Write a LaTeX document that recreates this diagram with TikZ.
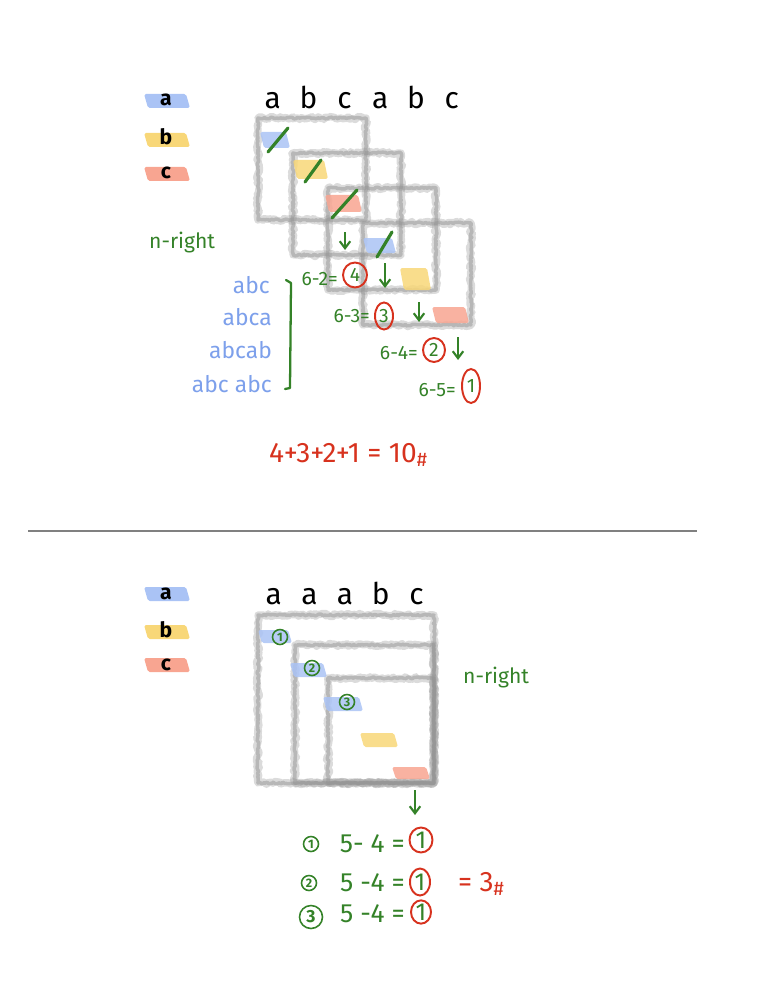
\documentclass[tikz,border=0pt]{standalone}
\usepackage{fontspec}
\setmainfont{Fira Sans}
\usetikzlibrary{shapes.geometric,decorations.pathmorphing,arrows.meta}

\definecolor{penGreen}{RGB}{52,130,40}
\definecolor{penRed}{RGB}{215,50,30}
\definecolor{penBlue}{RGB}{125,160,235}
\definecolor{hlBlue}{RGB}{170,195,245}
\definecolor{hlYellow}{RGB}{248,215,120}
\definecolor{hlRed}{RGB}{248,165,145}

\begin{document}
\begin{tikzpicture}[x=0.02cm, y=-0.02cm]
    \tikzstyle{sketchbox} = [draw=gray!80, line width=4.2pt, opacity=0.35, line join=round, decorate, decoration={random steps, segment length=1.2pt, amplitude=0.9pt}]
    \tikzstyle{sketchcore} = [draw=gray!85, line width=2pt, opacity=0.5, line join=round, decorate, decoration={random steps, segment length=1pt, amplitude=0.5pt}]
    \tikzstyle{hdr} = [anchor=base, font=\fontsize{17}{20}\selectfont]
    \tikzstyle{legend} = [anchor=base, font=\fontsize{12}{14}\selectfont\bfseries]
    \tikzstyle{pen} = [text=penGreen, font=\fontsize{12}{14}\selectfont]
    \tikzstyle{ring} = [ellipse, draw=penRed, line width=1.1pt, text=penGreen, inner sep=0pt]
    \tikzstyle{dot} = [circle, draw=penGreen, line width=0.9pt, text=penGreen, inner sep=0pt, minimum size=0.3cm, font=\fontsize{7}{8}\selectfont\bfseries]
    \tikzstyle{slash} = [penGreen, line width=1.8pt, line cap=round]
    \tikzstyle{down} = [penGreen, line width=1.2pt, -{Straight Barb[length=4pt,width=6pt]}]

    \useasboundingbox (0,0) rectangle (765,1000);

    % ---------- upper half: abcabc ----------
    % Legend
    \foreach \y/\col/\t [count=\i] in {101/hlBlue/a, 140/hlYellow/b, 174/hlRed/c} {
        \fill[\col, rounded corners=1pt] (144,\y-7) -- (186,\y-7) -- (190,\y+7) -- (148,\y+7) -- cycle;
        \node[legend] (lgA\i) at (166,\y+5) {\t};
    }

    % Column letters
    \foreach \t [count=\i] in {a,b,c,a,b,c}
        \node[hdr] (hA\i) at ({237+35.8*\i},109) {\t};

    % Windows
    \foreach \i in {0,...,3} {
        \draw[sketchbox] ({258+35*\i},{118+35*\i}) rectangle +(108,102);
        \draw[sketchcore] ({258+35*\i},{118+35*\i}) rectangle +(108,102);
    }

    % Highlighted letters
    \foreach \xa/\ya/\xb/\yb/\col in {260/132/290/148/hlBlue, 293/160/328/179/hlYellow, 325/195/362/212/hlRed,
                                      363/238/396/253/hlBlue, 400/268/431/290/hlYellow, 432/307/469/323/hlRed}
        \fill[\col, opacity=0.85, rounded corners=1pt] (\xa,\ya) -- (\xb-4,\ya) -- (\xb,\yb) -- (\xa+4,\yb) -- cycle;

    % Crossed out starts
    \draw[slash] (268,152) -- (288,128);
    \draw[slash] (305,182) -- (321,160);
    \draw[slash] (332,218) -- (357,190);
    \draw[slash] (377,257) -- (392,232);

    % Arrows down
    \foreach \x/\ya/\yb in {345/232/250, 385/263/288, 419/302/322, 458/337/360}
        \draw[down] (\x,\ya) -- (\x,\yb);

    \node[pen, anchor=west] (nrA) at (143,243) {n-right};

    % Substrings
    \node[pen, text=penBlue, anchor=base east, font=\fontsize{13}{15}\selectfont] (sA) at (276,293) {abc};
    \node[pen, text=penBlue, anchor=base east, font=\fontsize{13}{15}\selectfont] (sB) at (278,325) {abca};
    \node[pen, text=penBlue, anchor=base east, font=\fontsize{13}{15}\selectfont] (sC) at (278,358) {abcab};
    \node[pen, text=penBlue, anchor=base east, font=\fontsize{13}{15}\selectfont] (sD) at (278,392) {abc abc};
    \draw[penGreen, line width=1.3pt, line cap=round, line join=round] (286,280) -- (291,283) -- (290,388) -- (285,389);

    % Counts
    \node[pen, anchor=base east, font=\fontsize{11}{13}\selectfont] (eA) at (344,285) {6-2=};
    \node[pen, anchor=base east, font=\fontsize{11}{13}\selectfont] (eB) at (376,322) {6-3=};
    \node[pen, anchor=base east, font=\fontsize{11}{13}\selectfont] (eC) at (424,359) {6-4=};
    \node[pen, anchor=base east, font=\fontsize{11}{13}\selectfont] (eD) at (462,396) {6-5=};
    \node[ring, minimum width=0.48cm, minimum height=0.5cm, font=\fontsize{11}{13}\selectfont] (rA) at (355,275) {4};
    \node[ring, minimum width=0.36cm, minimum height=0.54cm, font=\fontsize{11}{13}\selectfont] (rB) at (384,316) {3};
    \node[ring, minimum width=0.44cm, minimum height=0.48cm, font=\fontsize{11}{13}\selectfont] (rC) at (434,350) {2};
    \node[ring, minimum width=0.36cm, minimum height=0.68cm, font=\fontsize{11}{13}\selectfont] (rD) at (471,386) {1};

    \node[pen, text=penRed, anchor=base west, font=\fontsize{16}{18}\selectfont] (sumA) at (263,462) {4+3+2+1 = 10\textsubscript{\#}};

    % Separator
    \draw[gray, line width=1.2pt] (28,531) -- (697,531);

    % ---------- lower half: aaabc ----------
    % Legend
    \foreach \y/\col/\t [count=\i] in {594/hlBlue/a, 632/hlYellow/b, 665/hlRed/c} {
        \fill[\col, rounded corners=1pt] (144,\y-7) -- (186,\y-7) -- (190,\y+7) -- (148,\y+7) -- cycle;
        \node[legend] (lgB\i) at (166,\y+5) {\t};
    }

    % Column letters
    \foreach \t [count=\i] in {a,a,a,b,c}
        \node[hdr] (hB\i) at ({238+35.7*\i},604) {\t};

    % Nested windows
    \foreach \xa/\ya in {258/615, 295/645, 328/678} {
        \draw[sketchbox] (\xa,\ya) rectangle (434,783);
        \draw[sketchcore] (\xa,\ya) rectangle (434,783);
    }

    % Highlighted letters
    \foreach \xa/\ya/\xb/\yb/\col in {258/630/292/643/hlBlue, 290/663/327/677/hlBlue, 323/697/363/711/hlBlue,
                                      360/733/398/747/hlYellow, 392/767/430/779/hlRed}
        \fill[\col, opacity=0.85, rounded corners=1pt] (\xa,\ya) -- (\xb-4,\ya) -- (\xb,\yb) -- (\xa+4,\yb) -- cycle;

    \node[dot] (dA) at (280,637) {1};
    \node[dot] (dB) at (312,668) {2};
    \node[dot] (dC) at (347,702) {3};

    \node[pen, anchor=base west] (nrB) at (457,683) {n-right};

    \draw[down] (415,790) -- (415,815);

    % Counts
    \node[dot, minimum size=0.3cm] (cA) at (311,844) {1};
    \node[dot, minimum size=0.3cm] (cB) at (309,883) {2};
    \node[dot, minimum size=0.46cm, font=\fontsize{10}{12}\selectfont\bfseries] (cC) at (311,917) {3};
    \node[pen, anchor=base east, font=\fontsize{15}{17}\selectfont] (fA) at (411,852) {5- 4 =};
    \node[pen, anchor=base east, font=\fontsize{15}{17}\selectfont] (fB) at (411,891) {5 -4 =};
    \node[pen, anchor=base east, font=\fontsize{15}{17}\selectfont] (fC) at (411,922) {5 -4 =};
    \node[ring, minimum width=0.46cm, minimum height=0.5cm, font=\fontsize{14}{16}\selectfont] (qA) at (421,840) {1};
    \node[ring, minimum width=0.4cm, minimum height=0.54cm, font=\fontsize{14}{16}\selectfont] (qB) at (420,882) {1};
    \node[ring, minimum width=0.4cm, minimum height=0.38cm, font=\fontsize{14}{16}\selectfont] (qC) at (421,912) {1};

    \node[pen, text=penRed, anchor=base west, font=\fontsize{16}{18}\selectfont] (sumB) at (452,891) {= 3\textsubscript{\#}};
\end{tikzpicture}
\end{document}
